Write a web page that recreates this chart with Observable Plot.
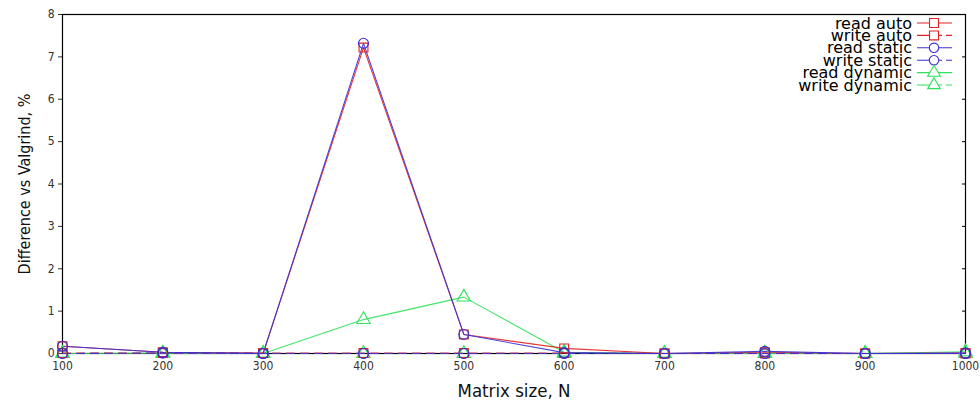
<!DOCTYPE html>
<html>
<head>
<meta charset="utf-8">
<script src="https://cdn.jsdelivr.net/npm/d3@7"></script>
<script src="https://cdn.jsdelivr.net/npm/@observablehq/plot@0.6"></script>
<style>
  html, body { margin: 0; padding: 0; background: #fff; }
  #wrap { position: relative; width: 980px; height: 400px; }
  #legend { position: absolute; left: 0; top: 0; pointer-events: none; }
</style>
</head>
<body>
<div id="wrap"></div>
<script>
const sizes = [100, 200, 300, 400, 500, 600, 700, 800, 900, 1000];
const readAuto     = [0.17, 0.03, 0.01, 7.22, 0.45, 0.12, 0.00, 0.03, 0.00, 0.01];
const writeAuto    = [0.01, 0.01, 0.01, 0.01, 0.01, 0.01, 0.00, 0.00, 0.00, 0.00];
const readStatic   = [0.17, 0.03, 0.00, 7.32, 0.45, 0.02, 0.00, 0.05, 0.00, 0.01];
const writeStatic  = [0.00, 0.01, 0.00, 0.00, 0.00, 0.00, 0.00, 0.00, 0.00, 0.00];
const readDynamic  = [0.00, 0.01, 0.00, 0.80, 1.33, 0.03, 0.00, 0.00, 0.00, 0.04];
const writeDynamic = [0.00, 0.00, 0.00, 0.00, 0.00, 0.00, 0.00, 0.00, 0.00, 0.00];

const seriesNames = ["read auto", "write auto", "read static", "write static", "read dynamic", "write dynamic"];
const seriesValues = [readAuto, writeAuto, readStatic, writeStatic, readDynamic, writeDynamic];
const seriesColors = ["#e02424", "#e02424", "#3b2fd6", "#3b2fd6", "#2fe25c", "#2fe25c"];
const seriesSymbols = ["square", "square", "circle", "circle", "triangle", "triangle"];
const seriesDashed = [false, true, false, true, false, true];
const xTicks = [100, 200, 300, 400, 500, 600, 700, 800, 900, 1000];
const yTicks = [0, 1, 2, 3, 4, 5, 6, 7, 8];

const series = seriesNames.map((name, i) => ({
  name, color: seriesColors[i], symbol: seriesSymbols[i], dashed: seriesDashed[i],
  data: sizes.map((x, j) => ({x, y: seriesValues[i][j]}))
}));

// draw order: dynamic, auto, static (static on top -> purple blend look)
const order = [4, 5, 0, 1, 2, 3];
const marks = [];
for (const i of order) {
  const s = series[i];
  marks.push(Plot.line(s.data, {x: "x", y: "y", stroke: s.color, strokeWidth: 1.1,
    strokeDasharray: s.dashed ? "8,6" : null, strokeOpacity: 0.9}));
}
for (const i of order) {
  const s = series[i];
  marks.push(Plot.dot(s.data, {x: "x", y: "y", symbol: () => s.symbol, stroke: s.color,
    fill: "none", r: 5, strokeWidth: 1.1}));
}

const chart = Plot.plot({
  width: 980,
  height: 400,
  marginLeft: 62,
  marginRight: 15,
  marginTop: 14,
  marginBottom: 47,
  style: {fontFamily: "'DejaVu Sans', sans-serif", background: "#fff"},
  symbol: {type: "identity"},
  x: {domain: [100, 1000]},
  y: {domain: [0, 8]},
  marks: [
    Plot.axisX({ticks: xTicks, tickFormat: d3.format("d"), tickSize: 0, tickPadding: 8, fontSize: 12, color: "#333",
      label: "Matrix size, N", labelAnchor: "center", labelOffset: 43, labelArrow: "none"}),
    Plot.axisY({ticks: yTicks, tickSize: 4, tickPadding: 4, fontSize: 12, color: "#333",
      label: "Difference vs Valgrind, %", labelAnchor: "center", labelOffset: 44, labelArrow: "none"}),
    Plot.axisY({anchor: "right", ticks: yTicks, tickSize: -4, tickFormat: () => "", label: null}),
    Plot.frame({stroke: "#000", strokeWidth: 1.2}),
    ...marks
  ]
});

document.getElementById("wrap").appendChild(chart);

// condensed tick labels
d3.select(chart).selectAll('[aria-label="x-axis tick label"] text, [aria-label="y-axis tick label"] text')
  .style("font-stretch", "condensed");

// resize and darken the axis titles
d3.select(chart).selectAll("text").each(function() {
  const t = this.textContent;
  if (t === "Difference vs Valgrind, %") {
    d3.select(this).style("font-size", "16px").style("font-stretch", "condensed").attr("fill", "#111");
  } else if (t === "Matrix size, N") {
    d3.select(this).style("font-size", "18.5px").style("font-stretch", "condensed").attr("fill", "#111");
  }
});

// legend overlay (top-right, inside the frame)
const lg = d3.select("#wrap").append("svg").attr("id", "legend")
  .attr("width", 980).attr("height", 400);
const sym = {square: d3.symbolSquare, circle: d3.symbolCircle, triangle: d3.symbolTriangle};
series.forEach((s, i) => {
  const cy = 23 + i * 12.4;
  lg.append("text").attr("x", 912).attr("y", cy).attr("dy", "0.35em")
    .attr("text-anchor", "end").attr("font-family", "'DejaVu Sans', sans-serif")
    .attr("font-size", 16).attr("fill", "#000").text(s.name);
  lg.append("line").attr("x1", 917).attr("x2", 952).attr("y1", cy).attr("y2", cy)
    .attr("stroke", s.color).attr("stroke-width", 1.1)
    .attr("stroke-dasharray", s.dashed ? "17,4,4,4,6" : null);
  const area = s.symbol === "square" ? 80 : 70;
  lg.append("path").attr("d", d3.symbol(sym[s.symbol], area)())
    .attr("transform", `translate(934,${cy})`)
    .attr("fill", "#fff").attr("stroke", s.color).attr("stroke-width", 1.1);
});
</script>
</body>
</html>
